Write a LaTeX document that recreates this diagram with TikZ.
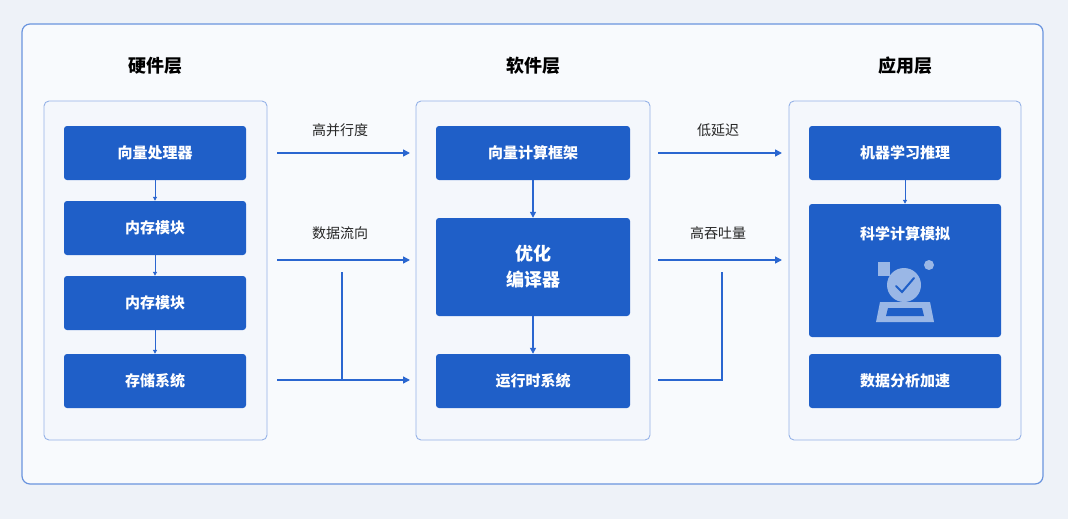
\documentclass[tikz,border=0pt]{standalone}
\usepackage{fontspec}
\setmainfont{Noto Sans CJK SC}
\usetikzlibrary{arrows.meta}
\definecolor{bg}{HTML}{EEF2F8}
\definecolor{bx}{HTML}{1F5FC8}
\definecolor{ln}{HTML}{2A66D0}
\definecolor{pn}{HTML}{F4F7FC}
\begin{document}
\begin{tikzpicture}[x=1pt,y=-1pt,
  box/.style={draw=none,fill=bx,rounded corners=3pt,text=white,font=\bfseries\fontsize{15}{18}\selectfont,inner sep=0pt},
  panel/.style={draw=ln!50,fill=pn,rounded corners=5pt,line width=0.9pt},
  ttl/.style={font=\bfseries\fontsize{18}{20}\selectfont,text=black},
  lbl/.style={font=\fontsize{14}{16}\selectfont,text=black!85},
  arr/.style={-{Triangle[length=7pt,width=7pt]},draw=ln,line width=1.4pt},
  sarr/.style={-{Triangle[length=4pt,width=4pt]},draw=ln,line width=1pt},
  con/.style={draw=ln,line width=1.4pt}]
\useasboundingbox (0,0) rectangle (1068,519);
\fill[bg] (0,0) rectangle (1068,519);
\draw[ln!70,line width=1.2pt,rounded corners=8pt,fill=pn!60] (22,24) rectangle (1043,484);
\node[ttl] (t1) at (155,66) {硬件层};
\node[ttl] (t2) at (533,66) {软件层};
\node[ttl] (t3) at (905,66) {应用层};
\draw[panel] (44,101) rectangle (267,440);
\draw[panel] (416,101) rectangle (650,440);
\draw[panel] (789,101) rectangle (1021,440);
% left
\node[box,minimum width=182pt,minimum height=54pt] (h1) at (155,153) {向量处理器};
\node[box,minimum width=182pt,minimum height=54pt] (h2) at (155,228) {内存模块};
\node[box,minimum width=182pt,minimum height=54pt] (h3) at (155,303) {内存模块};
\node[box,minimum width=182pt,minimum height=54pt] (h4) at (155,381) {存储系统};
\draw[sarr] (h1) -- (h2);
\draw[sarr] (h2) -- (h3);
\draw[sarr] (h3) -- (h4);
% middle
\node[box,minimum width=194pt,minimum height=54pt] (m1) at (533,153) {向量计算框架};
\node[box,minimum width=194pt,minimum height=98pt,align=center,font=\bfseries\fontsize{18}{26}\selectfont] (m2) at (533,267) {优化\\编译器};
\node[box,minimum width=194pt,minimum height=54pt] (m3) at (533,381) {运行时系统};
\draw[sarr,line width=1.3pt,-{Triangle[length=6pt,width=6pt]}] (m1) -- (m2);
\draw[sarr,line width=1.3pt,-{Triangle[length=6pt,width=6pt]}] (m2) -- (m3);
% right
\node[box,minimum width=192pt,minimum height=54pt] (r1) at (905,153) {机器学习推理};
\node[box,minimum width=192pt,minimum height=133pt] (r2) at (905,270.5) {};
\node[box] (r2t) at (905,234) {科学计算模拟};
\node[box,minimum width=192pt,minimum height=54pt] (r3) at (905,381) {数据分析加速};
\draw[sarr] (r1) -- (r2);
% icon
\begin{scope}[fill=white!55!bx,draw=white!55!bx]
\fill (878,262) rectangle (890,276);
\fill (876,322) -- (880,302) -- (930,302) -- (934,322) -- cycle;
\fill[bx] (886,316) -- (888,308) -- (922,308) -- (924,316) -- cycle;
\fill (904,285) circle (17pt);
\fill (929,265) circle (5pt);
\draw[bx,line width=2pt,line cap=round] (896,286) -- (902,292) -- (914,278);
\end{scope}
% connectors
\coordinate (a1) at (277,153); \coordinate (a2) at (277,260);
\coordinate (a3) at (277,380); \coordinate (j1) at (342,272);
\coordinate (j2) at (342,380); \coordinate (e2) at (410,260);
\coordinate (e1) at (410,153); \coordinate (e3) at (410,380);
\draw[arr] (a1) -- (e1);
\draw[arr] (a2) -- (e2);
\draw[arr] (a3) -- (e3);
\draw[con] (j1) -- (j2);
\node[lbl] (l1) at (340,130) {高并行度};
\node[lbl] (l2) at (340,233) {数据流向};
\coordinate (b1) at (658,153); \coordinate (b2) at (658,260);
\coordinate (f1) at (782,153); \coordinate (f2) at (782,260);
\coordinate (b3) at (658,380); \coordinate (k1) at (722,380); \coordinate (k2) at (722,272);
\draw[arr] (b1) -- (f1);
\draw[arr] (b2) -- (f2);
\draw[con] (b3) -- (k1) -- (k2);
\node[lbl] (l3) at (718,130) {低延迟};
\node[lbl] (l4) at (718,233) {高吞吐量};
\end{tikzpicture}
\end{document}
